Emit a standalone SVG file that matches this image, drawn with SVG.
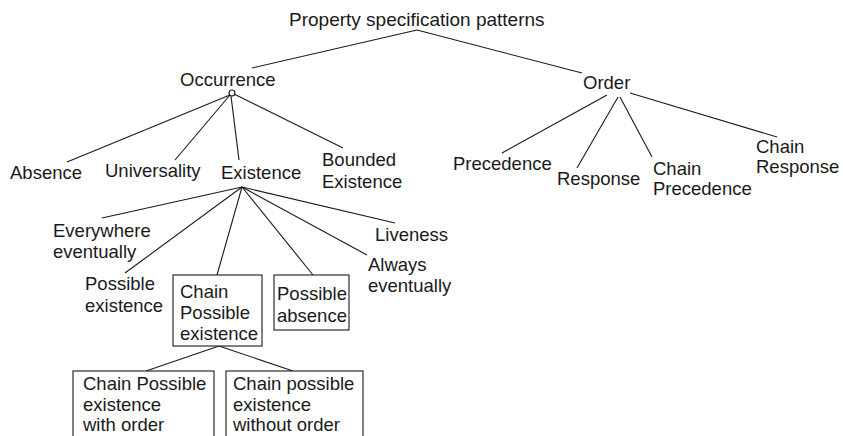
<svg xmlns="http://www.w3.org/2000/svg" width="843" height="436" viewBox="0 0 843 436">
<style>
text{font-family:"Liberation Sans",Arial,sans-serif;font-size:18.5px;fill:#1a1a1a}
.t{font-size:19px}
line,circle,rect{stroke:#1a1a1a;stroke-width:1.1;fill:none}
rect{fill:#fff}
</style>
<rect x="0" y="0" width="843" height="436" style="stroke:none;fill:#fff"/>
<g id="connectors">
<line x1="417" y1="30" x2="252" y2="68"/>
<line x1="417" y1="30" x2="582" y2="73"/>
<circle cx="232" cy="93" r="3"/>
<line x1="230" y1="95" x2="67" y2="162"/>
<line x1="230" y1="95" x2="175" y2="160"/>
<line x1="231" y1="96" x2="239" y2="160"/>
<line x1="234" y1="94" x2="343" y2="148"/>
<line x1="242" y1="187" x2="102" y2="218"/>
<line x1="242" y1="187" x2="125" y2="273"/>
<line x1="242" y1="187" x2="217" y2="275"/>
<line x1="242" y1="187" x2="313" y2="275"/>
<line x1="242" y1="187" x2="367" y2="255"/>
<line x1="242" y1="187" x2="395" y2="223"/>
<line x1="219" y1="346" x2="146" y2="371"/>
<line x1="219" y1="346" x2="293" y2="371"/>
<line x1="607" y1="95" x2="502" y2="153"/>
<line x1="618" y1="97" x2="577" y2="168"/>
<line x1="620" y1="97" x2="652" y2="157"/>
<line x1="630" y1="93" x2="777" y2="137"/>
</g>
<g id="root"><text class="t" x="289" y="26">Property specification patterns</text></g>
<g id="occurrence"><text x="180" y="86">Occurrence</text></g>
<g id="order"><text x="583" y="89">Order</text></g>
<g id="absence"><text x="10" y="179">Absence</text></g>
<g id="universality"><text x="105" y="177">Universality</text></g>
<g id="existence"><text x="221" y="179">Existence</text></g>
<g id="bounded-existence"><text x="322" y="166">Bounded</text><text x="322" y="188">Existence</text></g>
<g id="everywhere-eventually"><text x="53" y="237">Everywhere</text><text x="53" y="258">eventually</text></g>
<g id="liveness"><text x="375" y="241">Liveness</text></g>
<g id="always-eventually"><text x="368" y="271">Always</text><text x="368" y="292">eventually</text></g>
<g id="possible-existence"><text x="85" y="290">Possible</text><text x="85" y="312">existence</text></g>
<g id="chain-possible-existence"><rect x="173" y="275" width="89" height="71"/><text x="180" y="298">Chain</text><text x="180" y="319">Possible</text><text x="180" y="340">existence</text></g>
<g id="possible-absence"><rect x="274" y="275" width="75" height="55"/><text x="277" y="300">Possible</text><text x="277" y="322">absence</text></g>
<g id="chain-possible-existence-with-order"><rect x="73" y="371" width="141" height="80"/><text x="83" y="390">Chain Possible</text><text x="83" y="411">existence</text><text x="83" y="431">with order</text></g>
<g id="chain-possible-existence-without-order"><rect x="226" y="371" width="137" height="80"/><text x="233" y="390">Chain possible</text><text x="233" y="411">existence</text><text x="233" y="431">without order</text></g>
<g id="precedence"><text x="453" y="170">Precedence</text></g>
<g id="response"><text x="557" y="185">Response</text></g>
<g id="chain-precedence"><text x="653" y="175">Chain</text><text x="653" y="195">Precedence</text></g>
<g id="chain-response"><text x="756" y="153">Chain</text><text x="756" y="173">Response</text></g>
</svg>
